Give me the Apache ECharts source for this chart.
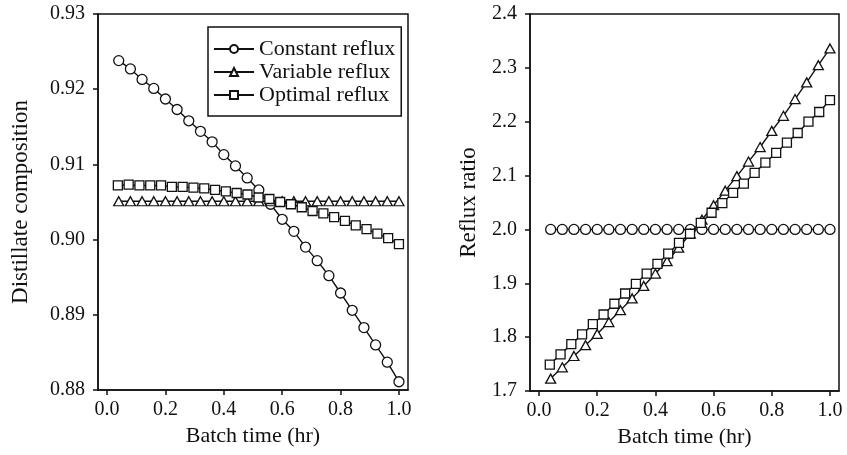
<!DOCTYPE html>
<html>
<head>
<meta charset="utf-8">
<script src="https://cdn.jsdelivr.net/npm/echarts@6/dist/echarts.min.js"></script>
<style>html,body{margin:0;padding:0;background:#fff}#c{width:847px;height:455px}</style>
</head>
<body>
<div id="c"></div>
<script>
// Time grids (hr)
var timeMain = [0.04,0.08,0.12,0.16,0.20,0.24,0.28,0.32,0.36,0.40,0.44,0.48,0.52,0.56,0.60,0.64,0.68,0.72,0.76,0.80,0.84,0.88,0.92,0.96,1.00];
var timeOpt = [0.037,0.074,0.111,0.148,0.185,0.222,0.259,0.296,0.333,0.370,0.407,0.444,0.481,0.519,0.556,0.593,0.630,0.667,0.704,0.741,0.778,0.815,0.852,0.889,0.926,0.963,1.000];

// Left panel: distillate composition
var compConstant = [0.9238,0.9227,0.9213,0.9201,0.9187,0.9173,0.9158,0.9144,0.9130,0.9113,0.9098,0.9082,0.9066,0.9047,0.9027,0.9011,0.8990,0.8972,0.8952,0.8929,0.8906,0.8883,0.8860,0.8837,0.8811];
var compVariable = [0.9051,0.9051,0.9051,0.9051,0.9051,0.9051,0.9051,0.9051,0.9051,0.9051,0.9051,0.9051,0.9051,0.9051,0.9051,0.9051,0.9051,0.9051,0.9051,0.9051,0.9051,0.9051,0.9051,0.9051,0.9051];
var compOptimal = [0.9072,0.9073,0.9072,0.9072,0.9072,0.9070,0.9070,0.9069,0.9068,0.9066,0.9064,0.9062,0.9060,0.9056,0.9054,0.9050,0.9047,0.9043,0.9038,0.9035,0.9030,0.9025,0.9019,0.9014,0.9008,0.9002,0.8994];

// Right panel: reflux ratio
var rrConstant = [2.0,2.0,2.0,2.0,2.0,2.0,2.0,2.0,2.0,2.0,2.0,2.0,2.0,2.0,2.0,2.0,2.0,2.0,2.0,2.0,2.0,2.0,2.0,2.0,2.0];
var rrVariable = [1.723,1.744,1.765,1.785,1.806,1.828,1.850,1.872,1.895,1.918,1.941,1.966,1.992,2.018,2.045,2.072,2.099,2.126,2.153,2.183,2.211,2.242,2.273,2.305,2.336];
var rrOptimal = [1.749,1.768,1.787,1.805,1.824,1.842,1.862,1.881,1.899,1.918,1.936,1.955,1.975,1.992,2.012,2.031,2.049,2.068,2.085,2.105,2.124,2.142,2.161,2.179,2.200,2.218,2.240];

var xTicks = [0,0.2,0.4,0.6,0.8,1.0];
var seriesNames = ['Constant reflux','Variable reflux','Optimal reflux'];
var xName = 'Batch time (hr)';
var yNames = ['Distillate composition','Reflux ratio'];

function zip(xs, ys){ return xs.map(function(x,i){ return [x, ys[i]]; }); }

var INK = '#111111';
var FONT = '"Liberation Serif", "Times New Roman", serif';

function xAxis(gi){
  return {
    gridIndex: gi, type: 'value', min: -0.031, max: 1.031,
    name: xName, nameLocation: 'middle', nameGap: 35,
    nameTextStyle: {fontFamily: FONT, fontSize: 22, color: INK},
    axisLine: {show: true, onZero: false, lineStyle: {color: INK, width: 1.5}},
    axisTick: {show: true, length: 5, inside: false, lineStyle: {color: INK, width: 1.5}, customValues: xTicks},
    axisLabel: {fontFamily: FONT, fontSize: 20, color: INK, margin: 10, customValues: xTicks,
      formatter: function(v){ return Number(v).toFixed(1); }},
    splitLine: {show: false}
  };
}
function yAxis(gi, min, max, interval, dec, nameGap){
  return {
    gridIndex: gi, type: 'value', min: min, max: max, interval: interval,
    name: yNames[gi], nameLocation: 'middle', nameGap: nameGap,
    nameTextStyle: {fontFamily: FONT, fontSize: 23, color: INK},
    axisLine: {show: true, onZero: false, lineStyle: {color: INK, width: 1.5}},
    axisTick: {show: true, length: 5, inside: false, lineStyle: {color: INK, width: 1.5}},
    axisLabel: {fontFamily: FONT, fontSize: 20, color: INK, margin: 13,
      formatter: function(v){ return Number(v).toFixed(dec); }},
    splitLine: {show: false}
  };
}

var symbols = ['circle','triangle','rect'];
var sizes = [10, [10,9], 9];
function mkSeries(name, si, gi, data){
  return {
    name: name, type: 'line', xAxisIndex: gi, yAxisIndex: gi,
    data: data, symbol: symbols[si], symbolSize: sizes[si], showAllSymbol: true,
    lineStyle: {color: INK, width: 1.4},
    itemStyle: {color: '#ffffff', borderColor: INK, borderWidth: 1.3},
    emphasis: {disabled: true}, animation: false, z: 2 + si
  };
}

var chart = echarts.init(document.getElementById('c'), null, {renderer: 'canvas'});
chart.setOption({
  backgroundColor: '#ffffff',
  animation: false,
  grid: [
    {left: 98, top: 14, width: 310, height: 376, show: true, borderColor: INK, borderWidth: 1.5, backgroundColor: 'transparent', outerBoundsMode: 'none', containLabel: false},
    {left: 530, top: 14, width: 309, height: 377, show: true, borderColor: INK, borderWidth: 1.5, backgroundColor: 'transparent', outerBoundsMode: 'none', containLabel: false}
  ],
  xAxis: [xAxis(0), xAxis(1)],
  yAxis: [yAxis(0, 0.88, 0.93, 0.01, 2, 66), yAxis(1, 1.7, 2.4, 0.1, 1, 50)],
  legend: {
    orient: 'vertical', left: 208, top: 27,
    data: seriesNames,
    itemWidth: 40, itemHeight: 10, itemGap: 1,
    padding: [11, 6, 10, 5],
    borderColor: INK, borderWidth: 1.5, backgroundColor: '#fff',
    textStyle: {fontFamily: FONT, fontSize: 22, color: INK},
    selectedMode: false
  },
  series: [
    mkSeries(seriesNames[0], 0, 0, zip(timeMain, compConstant)),
    mkSeries(seriesNames[1], 1, 0, zip(timeMain, compVariable)),
    mkSeries(seriesNames[2], 2, 0, zip(timeOpt, compOptimal)),
    mkSeries(seriesNames[0], 0, 1, zip(timeMain, rrConstant)),
    mkSeries(seriesNames[1], 1, 1, zip(timeMain, rrVariable)),
    mkSeries(seriesNames[2], 2, 1, zip(timeOpt, rrOptimal))
  ]
});
</script>
</body>
</html>
